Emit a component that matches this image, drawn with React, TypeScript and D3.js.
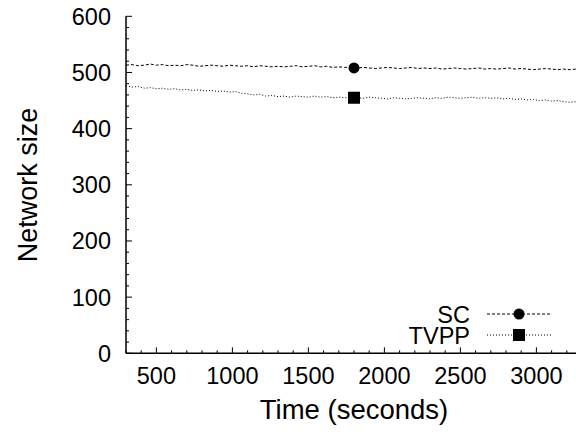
import React from "react";
import * as d3 from "d3";

const times = [
  300, 340, 380, 420, 460, 500, 540, 580, 620, 660,
  700, 740, 780, 820, 860, 900, 940, 980, 1020, 1060,
  1100, 1140, 1180, 1220, 1260, 1300, 1340, 1380, 1420, 1460,
  1500, 1540, 1580, 1620, 1660, 1700, 1740, 1780, 1820, 1860,
  1900, 1940, 1980, 2020, 2060, 2100, 2140, 2180, 2220, 2260,
  2300, 2340, 2380, 2420, 2460, 2500, 2540, 2580, 2620, 2660,
  2700, 2740, 2780, 2820, 2860, 2900, 2940, 2980, 3020, 3060,
  3100, 3140, 3180, 3220, 3260,
];

const scValues = [
  513, 514, 512, 513, 515, 513, 514, 512, 513, 512,
  514, 513, 511, 512, 513, 512, 511, 513, 512, 511,
  512, 510, 512, 511, 510, 511, 510, 511, 512, 510,
  511, 512, 510, 511, 509, 510, 509, 510, 508, 509,
  508, 507, 508, 509, 508, 507, 508, 509, 507, 508,
  507, 508, 506, 507, 508, 507, 506, 507, 508, 506,
  507, 506, 507, 508, 506, 507, 506, 505, 506, 507,
  506, 505, 506, 505, 506,
];

const tvppValues = [
  476, 474, 475, 472, 473, 471, 472, 470, 471, 469,
  470, 468, 469, 467, 468, 466, 467, 465, 466, 463,
  462, 460, 461, 458, 459, 457, 458, 456, 458, 457,
  456, 458, 456, 457, 455, 456, 455, 456, 455, 454,
  456, 455, 454, 453, 455, 454, 453, 454, 455, 454,
  453, 455, 454, 456, 455, 454, 455, 456, 454, 455,
  454, 455, 453, 454, 452, 453, 451, 452, 450, 451,
  449, 450, 448, 447, 448,
];

const seriesNames = ["SC", "TVPP"];
const markerTime = 1800;
const markerValues = [508, 455];

const xTicks = [500, 1000, 1500, 2000, 2500, 3000];
const yTicks = [0, 100, 200, 300, 400, 500, 600];

export default function App() {
  const x = d3.scaleLinear().domain([300, 3300]).range([126, 582]);
  const y = d3.scaleLinear().domain([0, 600]).range([353.3, 16.3]);
  const font = "'Liberation Sans', Arial, sans-serif";
  const tickSize = 23.5;
  const titleSize = 27.5;

  const sc = times.map((t, i) => [t, scValues[i]] as [number, number]);
  const tv = times.map((t, i) => [t, tvppValues[i]] as [number, number]);
  const line = d3
    .line<[number, number]>()
    .x((d) => x(d[0]))
    .y((d) => y(d[1]));

  const xMinor = d3.range(300, 3300, 100).filter((v) => v % 500 !== 0);
  const yMinor = d3.range(0, 600, 20).filter((v) => v % 100 !== 0);

  const legX0 = 487;
  const legX1 = 551;
  const legMid = 519;
  const legY = [314, 335];

  return (
    <svg
      width={576}
      height={432}
      style={{ position: "absolute", left: 0, top: 0, background: "#fff" }}
    >
      <rect width={576} height={432} fill="#fff" />
      {/* lines */}
      <path d={line(sc) || ""} fill="none" stroke="#000" strokeWidth={1} strokeDasharray="3,2" />
      <path d={line(tv) || ""} fill="none" stroke="#000" strokeWidth={1} strokeDasharray="1,2" />
      <circle cx={x(markerTime)} cy={y(markerValues[0])} r={5.5} fill="#000" />
      <rect
        x={x(markerTime) - 6}
        y={y(markerValues[1]) - 6}
        width={12}
        height={12}
        fill="#000"
      />
      {/* axes */}
      <line x1={126} x2={126} y1={y(600)} y2={y(0)} stroke="#000" strokeWidth={1.5} />
      <line x1={126} x2={576} y1={y(0)} y2={y(0)} stroke="#000" strokeWidth={1.5} />
      {xTicks.map((v) => (
        <g key={"xt" + v}>
          <line x1={x(v)} x2={x(v)} y1={y(0)} y2={y(0) - 6} stroke="#000" />
          <text x={x(v)} y={384} textAnchor="middle" fontFamily={font} fontSize={tickSize}>
            {v}
          </text>
        </g>
      ))}
      {xMinor.map((v) => (
        <line key={"xm" + v} x1={x(v)} x2={x(v)} y1={y(0)} y2={y(0) - 3} stroke="#000" />
      ))}
      {yTicks.map((v) => (
        <g key={"yt" + v}>
          <line x1={126} x2={132} y1={y(v)} y2={y(v)} stroke="#000" />
          <text x={111} y={y(v) + 8.5} textAnchor="end" fontFamily={font} fontSize={tickSize}>
            {v}
          </text>
        </g>
      ))}
      {yMinor.map((v) => (
        <line key={"ym" + v} x1={126} x2={129} y1={y(v)} y2={y(v)} stroke="#000" />
      ))}
      <text x={354} y={419} textAnchor="middle" fontFamily={font} fontSize={titleSize}>
        Time (seconds)
      </text>
      <text
        transform="translate(37,185) rotate(-90)"
        textAnchor="middle"
        fontFamily={font}
        fontSize={27}
      >
        Network size
      </text>
      {/* legend */}
      {seriesNames.map((n, i) => (
        <g key={n}>
          <text x={470} y={legY[i] + 8.5} textAnchor="end" fontFamily={font} fontSize={tickSize}>
            {n}
          </text>
          <line
            x1={legX0}
            x2={legX1}
            y1={legY[i]}
            y2={legY[i]}
            stroke="#000"
            strokeDasharray={i === 0 ? "3,2" : "1,2"}
          />
          {i === 0 ? (
            <circle cx={legMid} cy={legY[i]} r={5.5} fill="#000" />
          ) : (
            <rect x={legMid - 6} y={legY[i] - 6} width={12} height={12} fill="#000" />
          )}
        </g>
      ))}
    </svg>
  );
}
